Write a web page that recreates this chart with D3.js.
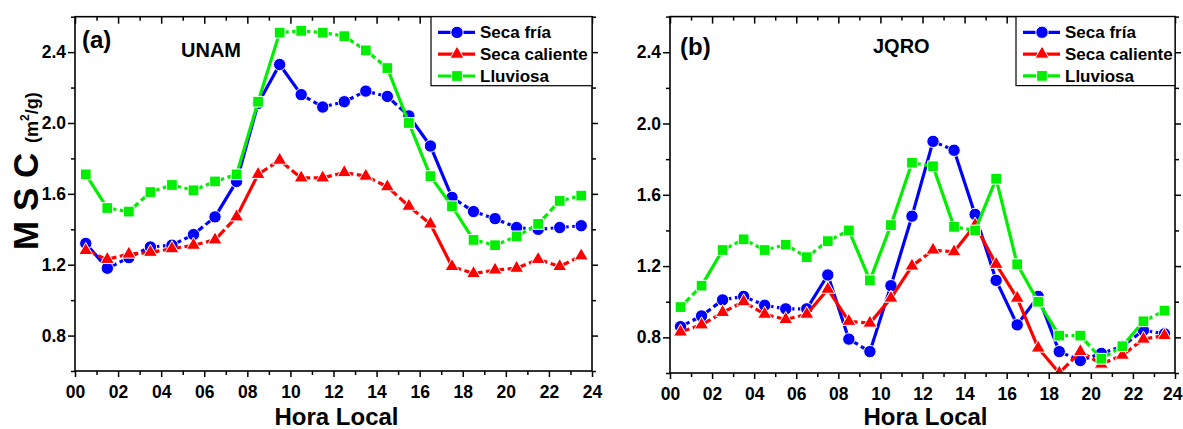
<!DOCTYPE html>
<html>
<head>
<meta charset="utf-8">
<script src="https://cdn.jsdelivr.net/npm/d3@7"></script>
<style>
  body { margin: 0; background: #fff; }
  svg { display: block; font-family: "Liberation Sans", Arial, sans-serif; font-weight: bold; }
</style>
</head>
<body>
<svg id="chart" width="1183" height="429"></svg>
<script>
// hours of day (x categories)
const hours = [0.5, 1.5, 2.5, 3.5, 4.5, 5.5, 6.5, 7.5, 8.5, 9.5, 10.5, 11.5,
               12.5, 13.5, 14.5, 15.5, 16.5, 17.5, 18.5, 19.5, 20.5, 21.5, 22.5, 23.5];

const xMajorTicks = [0, 2, 4, 6, 8, 10, 12, 14, 16, 18, 20, 22, 24];
const xTickLabels = ["00", "02", "04", "06", "08", "10", "12", "14", "16", "18", "20", "22", "24"];
const xMinorTicks = [1, 3, 5, 7, 9, 11, 13, 15, 17, 19, 21, 23];
const yMajorTicks = [0.8, 1.2, 1.6, 2.0, 2.4];
const yMinorTicks = [0.6, 1.0, 1.4, 1.8, 2.2, 2.6];

const seriesNames = ["Seca fría", "Seca caliente", "Lluviosa"];

// UNAM
const unamSecaFria = [1.32, 1.18, 1.24, 1.30, 1.31, 1.37, 1.47, 1.67, 2.11, 2.33, 2.16, 2.09,
                      2.12, 2.18, 2.15, 2.04, 1.87, 1.58, 1.50, 1.46, 1.41, 1.40, 1.41, 1.42];
const unamSecaCaliente = [1.28, 1.23, 1.26, 1.27, 1.29, 1.31, 1.34, 1.47, 1.71, 1.79, 1.69, 1.69,
                          1.72, 1.70, 1.64, 1.53, 1.43, 1.19, 1.15, 1.17, 1.18, 1.23, 1.19, 1.25];
const unamLluviosa = [1.71, 1.52, 1.50, 1.61, 1.65, 1.62, 1.67, 1.71, 2.12, 2.51, 2.52, 2.51,
                      2.49, 2.41, 2.31, 2.00, 1.70, 1.53, 1.34, 1.31, 1.36, 1.43, 1.56, 1.59];

// JQRO
const jqroSecaFria = [0.86, 0.92, 1.01, 1.03, 0.98, 0.96, 0.96, 1.15, 0.79, 0.72, 1.09, 1.48,
                      1.90, 1.85, 1.49, 1.12, 0.87, 1.03, 0.72, 0.67, 0.71, 0.75, 0.84, 0.82];
const jqroSecaCaliente = [0.83, 0.87, 0.94, 1.00, 0.93, 0.90, 0.93, 1.07, 0.89, 0.88, 1.02, 1.20,
                          1.29, 1.28, 1.43, 1.21, 1.02, 0.74, 0.60, 0.72, 0.65, 0.70, 0.79, 0.81];
const jqroLluviosa = [0.97, 1.09, 1.29, 1.35, 1.29, 1.32, 1.25, 1.34, 1.40, 1.12, 1.43, 1.78,
                      1.76, 1.42, 1.40, 1.69, 1.21, 1.00, 0.81, 0.81, 0.68, 0.75, 0.89, 0.95];

const colors = ["#0000ff", "#ff0000", "#00ee00"];
const symbols = [
    { type: d3.symbolCircle, size: 120 },
    { type: d3.symbolTriangle, size: 85 },
    { type: d3.symbolSquare, size: 115 }
];

const svg = d3.select("#chart");

function styleAxis(sel) {
    sel.select(".domain").remove();
    sel.selectAll(".tick line").attr("stroke", "#000").attr("stroke-width", 1.5);
    sel.selectAll(".tick text").attr("fill", "#000").style("font-size", "17.5px");
}

function drawPanel(p) {
    const x = d3.scaleLinear().domain([0, 24]).range(p.xRange);
    const y = d3.scaleLinear().domain([0.6, 2.6]).range(p.yRange);
    const [x0, x1] = p.xRange;
    const [yb, yt] = p.yRange;

    const g = svg.append("g");

    // bottom axis
    const bottom = g.append("g").attr("transform", `translate(0,${yb})`)
        .call(d3.axisBottom(x).tickValues(xMajorTicks).tickFormat((d, i) => xTickLabels[i])
            .tickSizeInner(6).tickSizeOuter(0).tickPadding(9))
        .call(styleAxis);
    if (p.lastLabelEnd) {
        bottom.selectAll(".tick text").filter(d => d === 24)
            .attr("text-anchor", "end").attr("x", p.lastLabelEnd);
    }
    g.append("g").attr("transform", `translate(0,${yb})`)
        .call(d3.axisBottom(x).tickValues(xMinorTicks).tickFormat("").tickSizeInner(4).tickSizeOuter(0))
        .call(styleAxis);

    // top axis (ticks inward)
    g.append("g").attr("transform", `translate(0,${yt})`)
        .call(d3.axisBottom(x).tickValues(xMajorTicks).tickFormat("").tickSizeInner(7).tickSizeOuter(0))
        .call(styleAxis);
    g.append("g").attr("transform", `translate(0,${yt})`)
        .call(d3.axisBottom(x).tickValues(xMinorTicks).tickFormat("").tickSizeInner(4).tickSizeOuter(0))
        .call(styleAxis);

    // left axis
    g.append("g").attr("transform", `translate(${x0},0)`)
        .call(d3.axisLeft(y).tickValues(yMajorTicks).tickFormat(d3.format(".1f"))
            .tickSizeInner(7).tickSizeOuter(0).tickPadding(2))
        .call(styleAxis);
    g.append("g").attr("transform", `translate(${x0},0)`)
        .call(d3.axisLeft(y).tickValues(yMinorTicks).tickFormat("").tickSizeInner(4).tickSizeOuter(0))
        .call(styleAxis);

    // right axis
    g.append("g").attr("transform", `translate(${x1},0)`)
        .call(d3.axisRight(y).tickValues(yMajorTicks).tickFormat("").tickSizeInner(6).tickSizeOuter(0))
        .call(styleAxis);
    g.append("g").attr("transform", `translate(${x1},0)`)
        .call(d3.axisRight(y).tickValues(yMinorTicks).tickFormat("").tickSizeInner(4).tickSizeOuter(0))
        .call(styleAxis);

    // clip to frame
    const clipId = "clip-" + p.id;
    svg.append("clipPath").attr("id", clipId)
        .append("rect").attr("x", x0).attr("y", yt).attr("width", x1 - x0).attr("height", yb - yt);

    const plot = g.append("g").attr("clip-path", `url(#${clipId})`);

    p.series.forEach((vals, s) => {
        const pts = hours.map((h, i) => [x(h), y(vals[i])]);
        const sg = plot.append("g");
        // line segments: short ones get a dash gap in the middle
        for (let i = 0; i < pts.length - 1; i++) {
            const [ax, ay] = pts[i];
            const [bx, by] = pts[i + 1];
            const L = Math.hypot(bx - ax, by - ay);
            const line = sg.append("line")
                .attr("x1", ax).attr("y1", ay).attr("x2", bx).attr("y2", by)
                .attr("stroke", colors[s]).attr("stroke-width", 3.2);
            if (L < 32) line.attr("stroke-dasharray", `${(L - 3.5) / 2},3.5`);
        }
        sg.selectAll("path.mk").data(pts).join("path")
            .attr("class", "mk")
            .attr("d", d3.symbol().type(symbols[s].type).size(symbols[s].size))
            .attr("transform", d => `translate(${d[0]},${d[1]})`)
            .attr("fill", colors[s])
            .attr("stroke", "#fff").attr("stroke-width", 1);
    });

    // frame
    g.append("rect").attr("x", x0).attr("y", yt).attr("width", x1 - x0).attr("height", yb - yt)
        .attr("fill", "none").attr("stroke", "#000").attr("stroke-width", 1.6);

    // legend
    const lg = g.append("g");
    lg.append("rect").attr("x", p.legendX).attr("y", yt).attr("width", x1 - p.legendX).attr("height", 69)
        .attr("fill", "#fff").attr("stroke", "#000").attr("stroke-width", 1.2);
    seriesNames.forEach((name, s) => {
        const cy = yt + 15.7 + s * 21.8;
        lg.append("line").attr("x1", p.legendX + 7).attr("x2", p.legendX + 44)
            .attr("y1", cy).attr("y2", cy).attr("stroke", colors[s]).attr("stroke-width", 3.2);
        lg.append("path").attr("d", d3.symbol().type(symbols[s].type).size(symbols[s].size))
            .attr("transform", `translate(${p.legendX + 26},${cy})`)
            .attr("fill", colors[s]).attr("stroke", "#fff").attr("stroke-width", 1);
        lg.append("text").attr("x", p.legendX + 49).attr("y", cy + 6)
            .style("font-size", "17px").attr("fill", "#000").text(name);
    });

    // panel labels
    g.append("text").attr("x", p.tagX).attr("y", p.tagY).style("font-size", "24px").text(p.tag);
    g.append("text").attr("x", p.siteX).attr("y", p.siteY).style("font-size", "20px").text(p.site);

    // x title
    g.append("text").attr("x", (x0 + x1) / 2 + 3).attr("y", 425).attr("text-anchor", "middle")
        .style("font-size", "24px").text("Hora Local");
}

drawPanel({
    id: "a", xRange: [75, 592], yRange: [371, 16.7],
    series: [unamSecaFria, unamSecaCaliente, unamLluviosa],
    legendX: 431, tag: "(a)", tagX: 82, tagY: 48, site: "UNAM", siteX: 181, siteY: 57
});

drawPanel({
    id: "b", xRange: [670, 1175], yRange: [373, 16.6],
    series: [jqroSecaFria, jqroSecaCaliente, jqroLluviosa],
    legendX: 1016, tag: "(b)", tagX: 680, tagY: 55, site: "JQRO", siteX: 873, siteY: 53,
    lastLabelEnd: 7
});

// y title
const yTitle = svg.append("text").attr("transform", "translate(38,250) rotate(-90)");
yTitle.append("tspan").style("font-size", "35px").text("M S C ");
yTitle.append("tspan").style("font-size", "18px").text("(m");
yTitle.append("tspan").style("font-size", "12px").attr("dy", -9).text("2");
yTitle.append("tspan").style("font-size", "18px").attr("dy", 9).text("/g)");
</script>
</body>
</html>
